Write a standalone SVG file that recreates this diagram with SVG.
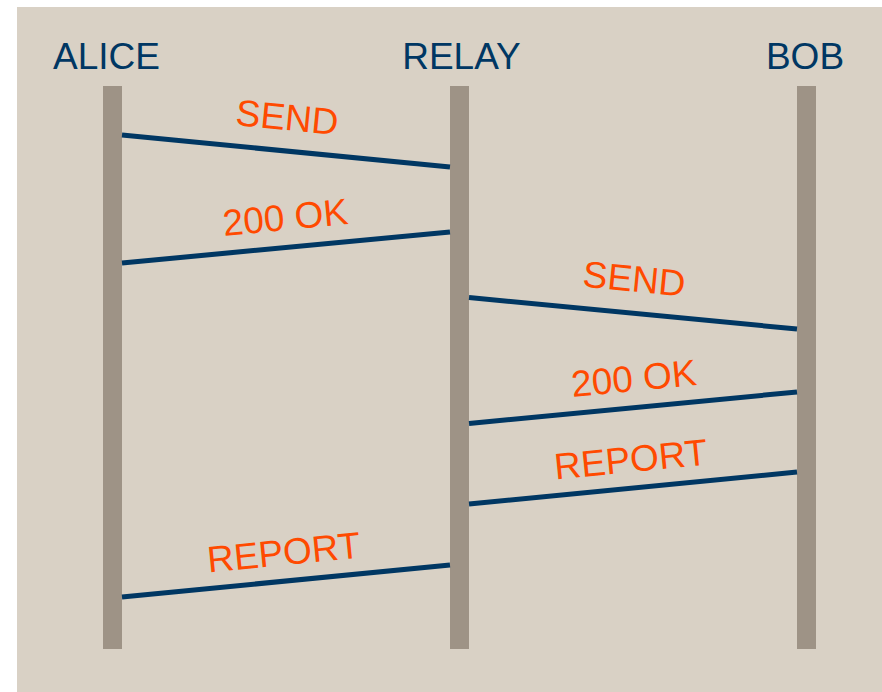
<svg xmlns="http://www.w3.org/2000/svg" width="882" height="692" viewBox="0 0 882 692">
  <style>
    .bg { fill: #d9d1c5; }
    .lifeline { fill: #9e9386; }
    .actor { font-family: "Liberation Sans", Arial, sans-serif; font-size: 37px; fill: #003763; text-anchor: middle; }
    .msg { stroke: #003763; stroke-width: 5; fill: none; }
    .label { font-family: "Liberation Sans", Arial, sans-serif; font-size: 37px; fill: #ff4a00; text-anchor: middle; }
  </style>

  <rect class="bg" x="17" y="7" width="865" height="685"/>

  <!-- participants -->
  <g id="alice">
    <rect class="lifeline" x="103" y="86" width="19" height="563"/>
    <text class="actor" x="106.5" y="69">ALICE</text>
  </g>
  <g id="relay">
    <rect class="lifeline" x="450" y="86" width="19" height="563"/>
    <text class="actor" x="461.5" y="69">RELAY</text>
  </g>
  <g id="bob">
    <rect class="lifeline" x="797" y="86" width="19" height="563"/>
    <text class="actor" x="805" y="69">BOB</text>
  </g>

  <!-- messages -->
  <g id="messages">
    <line class="msg" x1="122" y1="135" x2="450" y2="167"/>
    <text class="label" transform="translate(286,130) rotate(5.6)">SEND</text>

    <line class="msg" x1="122" y1="263" x2="450" y2="232"/>
    <text class="label" transform="translate(286.5,230) rotate(-5.5)">200 OK</text>

    <line class="msg" x1="469" y1="297.5" x2="797" y2="329"/>
    <text class="label" transform="translate(633,291.5) rotate(5.6)">SEND</text>

    <line class="msg" x1="469" y1="423.5" x2="797" y2="392"/>
    <text class="label" transform="translate(635,391) rotate(-5.5)">200 OK</text>

    <line class="msg" x1="469" y1="504" x2="797" y2="472"/>
    <text class="label" transform="translate(632,472) rotate(-5.6)">REPORT</text>

    <line class="msg" x1="122" y1="597" x2="450" y2="565"/>
    <text class="label" transform="translate(285,565) rotate(-5.6)">REPORT</text>
  </g>
</svg>
